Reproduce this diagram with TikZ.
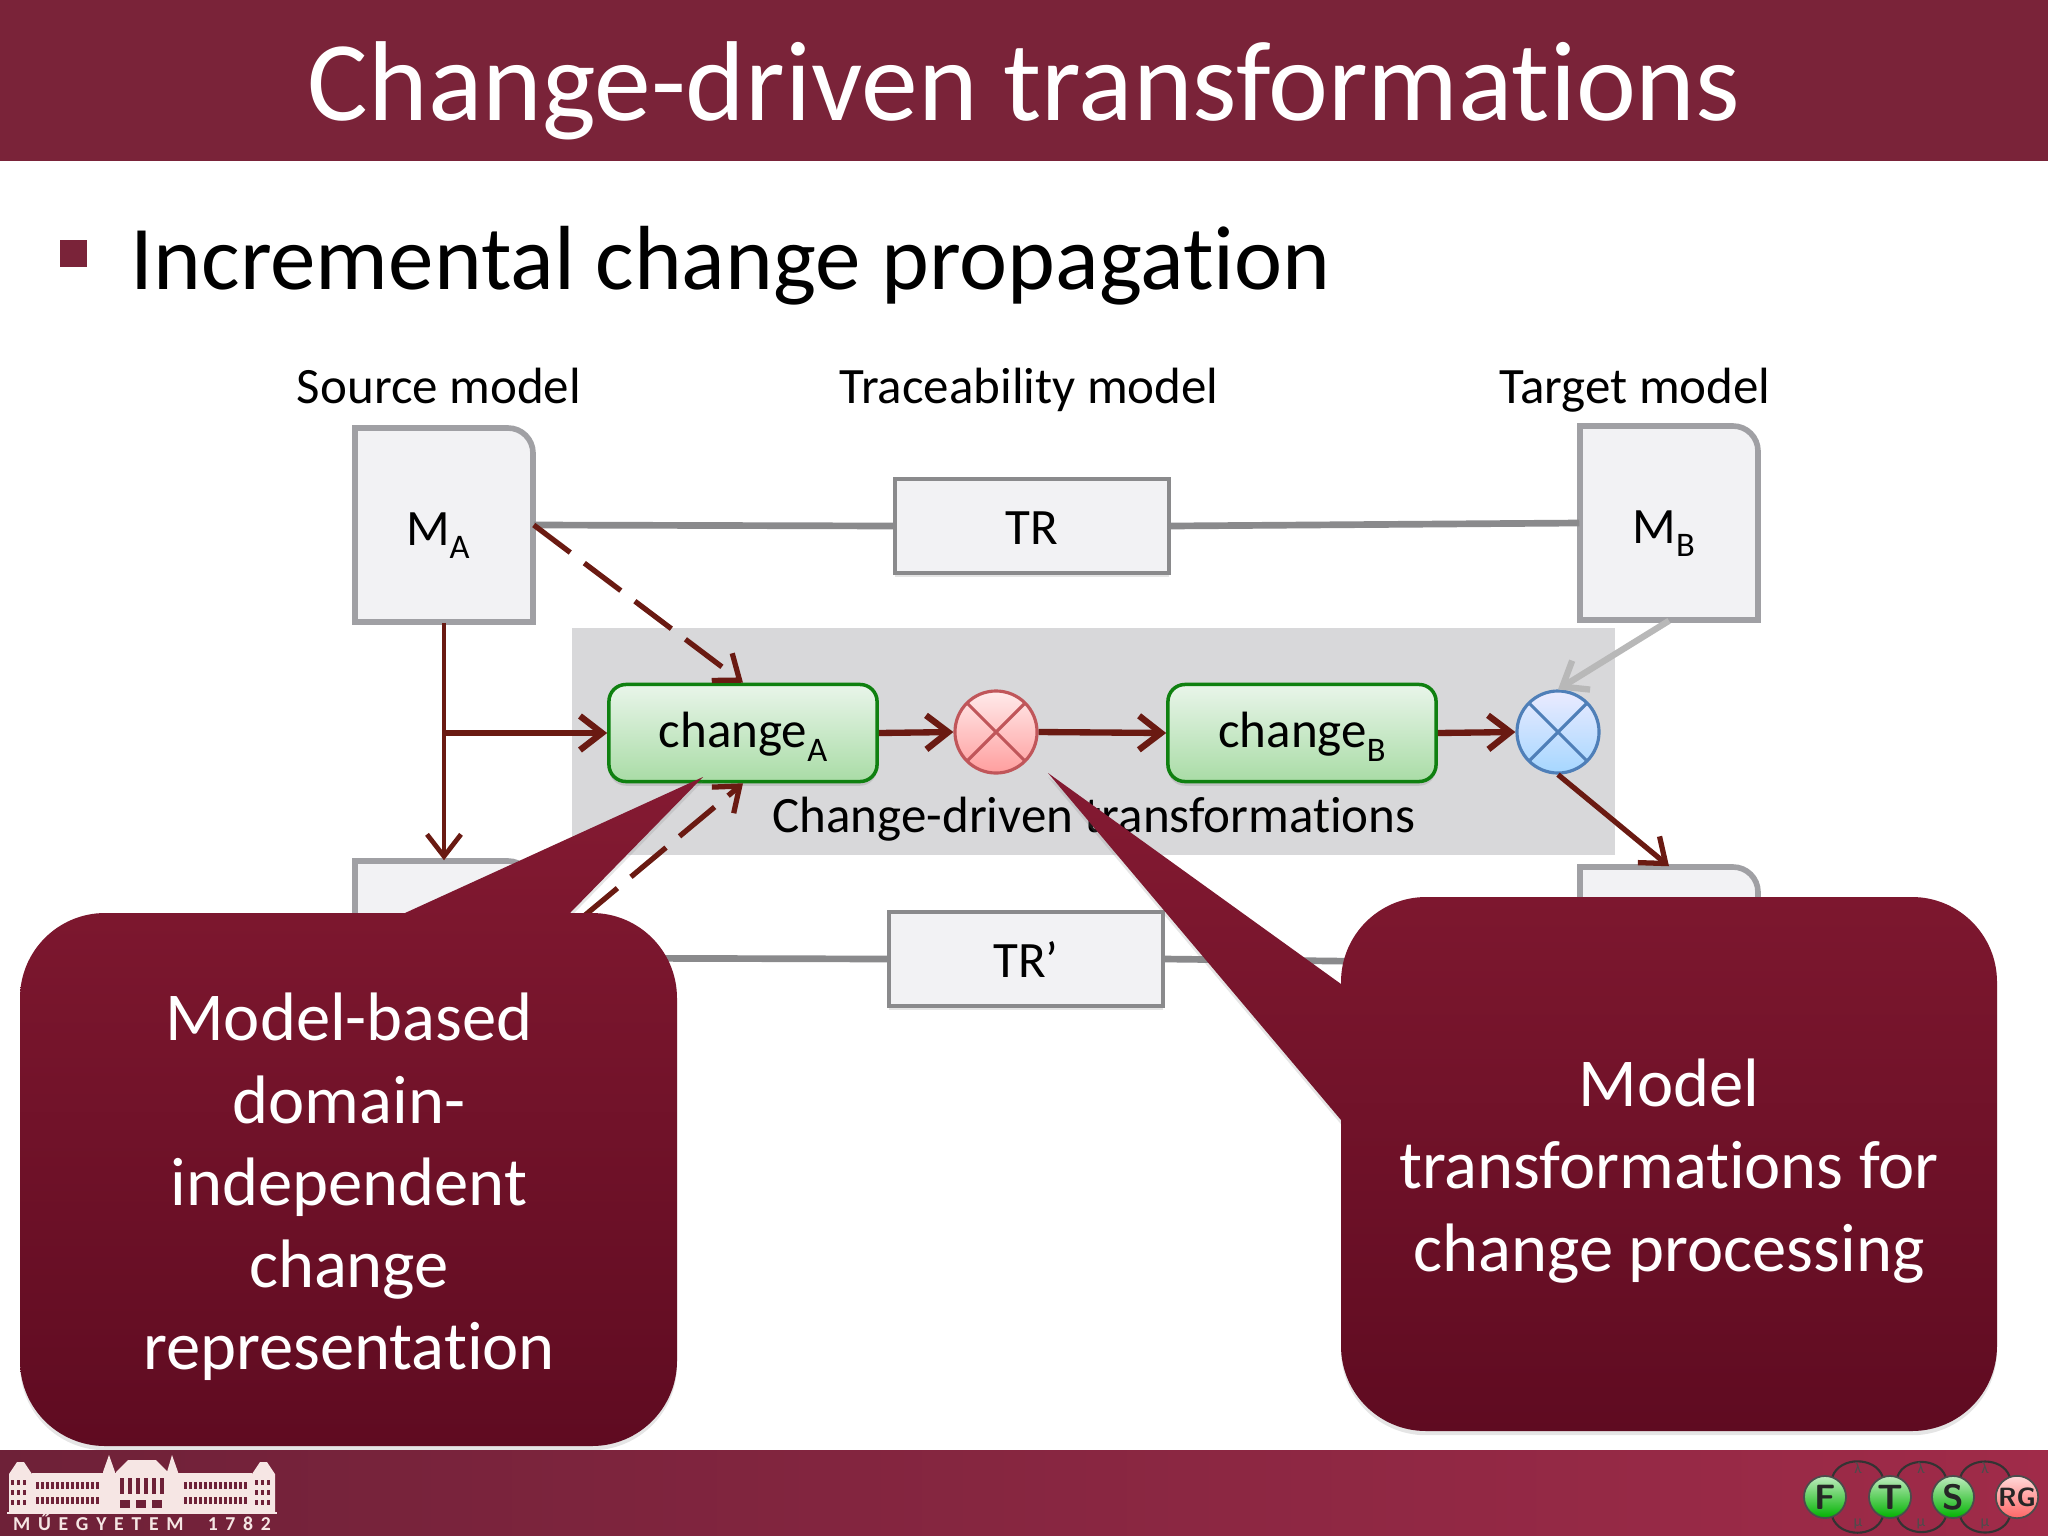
\documentclass[tikz,border=0pt]{standalone}
\usepackage{fontspec}
\setmainfont[Ligatures=NoCommon]{Carlito}
\usepackage{xcolor}
\usetikzlibrary{arrows.meta,calc,shadows}
\definecolor{slideWine}{HTML}{7A2339}
\definecolor{footLeft}{HTML}{6E2138}
\definecolor{footRight}{HTML}{A02B49}
\definecolor{calloutTop}{HTML}{841A32}
\definecolor{calloutBottom}{HTML}{5F0B21}
\definecolor{arrowBrown}{HTML}{6A1A12}
\definecolor{boxFill}{HTML}{F2F2F4}
\definecolor{boxLine}{HTML}{A0A0A4}
\definecolor{traceLine}{HTML}{8A8A8C}
\definecolor{panelGray}{HTML}{D8D8DA}
\definecolor{greenLine}{HTML}{0F8010}
\definecolor{greenTop}{HTML}{E9F5EA}
\definecolor{greenBottom}{HTML}{A9DCA6}
\definecolor{redLine}{HTML}{C0565A}
\definecolor{blueLine}{HTML}{4F7FB8}
\definecolor{logoPale}{HTML}{F6E6E4}
\tikzset{
  x=0.01cm, y=-0.01cm,
  flow/.style={-{Straight Barb[length=2.2mm,width=3.4mm]}, line width=1.35pt, draw=arrowBrown},
  thick flow/.style={flow, line width=1.8pt},
  dashflow/.style={flow, line width=1.5pt, dash pattern=on 13pt off 5pt},
  trace link/.style={line width=1.9pt, draw=traceLine},
  model outline/.style={draw=boxLine, fill=boxFill, line width=1.6pt,
    drop shadow={shadow xshift=0pt, shadow yshift=-.6pt, opacity=.2}},
  model label/.style={minimum width=1.78cm, minimum height=1.94cm, inner sep=0pt,
    text height=11.4pt, text depth=0pt, font=\fontsize{14.5}{16}\selectfont},
  trace box/.style={draw=traceLine, fill=boxFill, line width=1pt, minimum width=2.74cm,
    minimum height=.94cm, inner sep=0pt, text height=10.7pt, text depth=0pt,
    font=\fontsize{14.5}{16}\selectfont,
    drop shadow={shadow xshift=0pt, shadow yshift=-1.2pt, opacity=.2}},
  change box/.style={draw=greenLine, top color=greenTop, bottom color=greenBottom, line width=1pt,
    rounded corners=.17cm, minimum width=2.68cm, minimum height=.97cm, inner sep=0pt,
    text height=11pt, text depth=2.5pt, font=\fontsize{14.5}{16}\selectfont,
    drop shadow={shadow xshift=0pt, shadow yshift=-1.2pt, opacity=.25}},
  circle cross/.style={circle, minimum size=.82cm, inner sep=0pt, line width=.9pt, draw=#1,
    path picture={\draw[draw=#1, line width=.9pt]
      (path picture bounding box.north west) -- (path picture bounding box.south east)
      (path picture bounding box.north east) -- (path picture bounding box.south west);}},
  top label/.style={anchor=base, font=\fontsize{14.5}{16}\selectfont},
  callout/.style={top color=calloutTop, bottom color=calloutBottom,
    drop shadow={shadow xshift=0pt, shadow yshift=-1.2pt, opacity=.2}},
  callout text/.style={text=white, align=center, font=\fontsize{19.5}{23.4}\selectfont},
  ftsrg ball/.style={circle, minimum size=.42cm, inner sep=0pt, draw=black!70, line width=.5pt,
    top color=#1!25, bottom color=#1, text=black!85, font=\sffamily\bfseries\fontsize{10}{10}\selectfont},
  ftsrg arc/.style={draw=black!80, line width=.6pt},
  ftsrg tag/.style={inner sep=0pt, text=black!70, font=\fontsize{4.5}{5}\selectfont},
  logo part/.style={fill=logoPale, draw=none}
}
\newcommand{\lowsub}[1]{\raisebox{-.55ex}{\fontsize{9.8}{10}\selectfont #1}}
\newcommand{\modelbox}[4]{%
  \draw[model outline] (#2-89,#3+97) -- (#2-89,#3-97)
    [rounded corners=.25cm] -- (#2+89,#3-97) [sharp corners] -- (#2+89,#3+97) -- cycle;
  \node[model label] (#1) at (#2,#3) {#4};
}
\begin{document}
\begin{tikzpicture}
  \useasboundingbox (0,0) rectangle (2048,1536);
  \fill[white] (0,0) rectangle (2048,1536);
  % header
  \node[fill=slideWine, minimum width=20.48cm, minimum height=1.61cm, inner sep=0pt] (header) at (1024,80.5) {};
  \node[anchor=base, text=white, font=\fontsize{32.3}{36}\selectfont] (title) at (1024,120) {Change-driven transformations};
  \node[fill=slideWine, minimum size=.27cm, inner sep=0pt] (bullet) at (73.5,253.5) {};
  \node[anchor=base west, inner sep=0pt, font=\fontsize{25.9}{30}\selectfont] (head) at (130,289) {Incremental change propagation};
  \node[top label] (lsource) at (439,403) {Source model};
  \node[top label] (ltrace) at (1029,403) {Traceability model};
  \node[top label] (ltarget) at (1635,403) {Target model};

  \node[fill=panelGray, minimum width=10.43cm, minimum height=2.27cm, inner sep=0pt] (panel) at (1093.5,741.5) {};
  \node[anchor=base, font=\fontsize{14.5}{16}\selectfont] (lpanel) at (1094,832) {Change-driven transformations};

  \modelbox{ma}{444}{525}{M\lowsub{A}\kern3.5pt}
  \modelbox{mb}{1669}{523}{M\lowsub{B}\kern3pt}
  \modelbox{man}{444}{958}{}
  \modelbox{mbn}{1669}{964}{}
  \node[trace box] (tr) at (1032,526) {TR};
  \node[trace box] (trn) at (1026,959) {TR’};
  \node[change box] (cha) at (743,733) {change\lowsub{A}};
  \node[change box] (chb) at (1302,733) {change\lowsub{B}};
  \node[circle cross=redLine, top color=red!8, bottom color=red!38] (opa) at (996,732) {};
  \node[circle cross=blueLine, top color=blue!8!white, bottom color=blue!45!cyan!35] (opb) at (1558,732) {};

  \draw[trace link] (ma.east) -- (tr.west);
  \draw[trace link] (tr.east) -- (mb.west);
  \draw[trace link] (man.east) -- (trn.west);
  \draw[trace link] (trn.east) -- (mbn.west);
  \coordinate (branch) at (ma.south |- cha.west);
  \draw[flow] (ma.south) -- (man.north);
  \draw[thick flow] (branch) -- (cha.west);
  \draw[thick flow] (cha.east) -- (opa.west);
  \draw[thick flow] (opa.east) -- (chb.west);
  \draw[thick flow] (chb.east) -- (opb.west);
  \draw[flow, line width=1.5pt] (opb.south) -- (mbn.north);
  \draw[thick flow, draw=black!28] (mb.south) -- (opb.north);
  \draw[dashflow] (ma.east) -- (cha.north);
  \draw[dashflow] (man.east) -- (cha.south);

  % callouts
  \shade[callout] (405,913) [sharp corners] -- (703,777) -- (570,913) [rounded corners=.85cm]
    -- (677,913) -- (677,1446) -- (20,1446) -- (20,913) [sharp corners] -- cycle;
  \node[callout text] (ltext) at (349,1187) {Model-based\\domain-\\independent\\change\\representation};
  \shade[callout] (1341,984) [sharp corners] -- (1048,773) -- (1341,1120) [rounded corners=.85cm]
    -- (1341,1431) -- (1997,1431) -- (1997,897) -- (1341,897) [sharp corners] -- cycle;
  \node[callout text] (rtext) at (1669,1171) {Model\\transformations for\\change processing};

  % footer
  \shade[left color=footLeft, right color=footRight] (0,1450) rectangle (2048,1536);
  \fill[logo part] (7,1512) rectangle (277,1514);
  \fill[logo part] (9,1474) -- (17,1462) -- (24,1462) -- (32,1474) -- (32,1512) -- (9,1512) -- cycle;
  \fill[logo part] (252,1474) -- (260,1462) -- (267,1462) -- (275,1474) -- (275,1512) -- (252,1512) -- cycle;
  \fill[logo part] (32,1473) rectangle (252,1512);
  \fill[logo part] (116,1472) -- (128,1460) -- (156,1460) -- (168,1472) -- (168,1512) -- (116,1512) -- cycle;
  \fill[logo part] (103,1472) -- (109,1455) -- (115,1472) -- (115,1512) -- (103,1512) -- cycle;
  \fill[logo part] (167,1472) -- (172,1455) -- (178,1472) -- (178,1512) -- (167,1512) -- cycle;
  \foreach \wx in {36,41,...,96,184,189,...,246} {
    \fill[footLeft] (\wx,1482) rectangle +(3,7);
    \fill[footLeft] (\wx,1497) rectangle +(3,7);
  }
  \foreach \wx in {11,17,23,255,261,267} {
    \fill[footLeft] (\wx,1480) rectangle +(3,5);
    \fill[footLeft] (\wx,1490) rectangle +(3,5);
    \fill[footLeft] (\wx,1500) rectangle +(3,5);
  }
  \foreach \wx in {120,128,...,160} \fill[footLeft] (\wx,1478) rectangle +(4,16);
  \foreach \wx in {120,136,152} \fill[footLeft] (\wx,1500) rectangle +(10,8);
  \node[text=logoPale, inner sep=0pt, font=\bfseries\fontsize{5.6}{6}\selectfont] (logotext) at (142,1522)
    {M\ \,Ű\ \,E\ \,G\ \,Y\ \,E\ \,T\ \,E\ \,M\quad\ 1\ \,7\ \,8\ \,2};

  \node[ftsrg ball=green!70!black] (ff) at (1825,1497) {F};
  \node[ftsrg ball=green!70!black] (ft) at (1890,1497) {T};
  \node[ftsrg ball=green!70!black] (fs) at (1953,1497) {S};
  \node[ftsrg ball=red!60!white, font=\sffamily\bfseries\fontsize{7.5}{8}\selectfont] (frg) at (2017,1497) {RG};
  \draw[ftsrg arc] (ff.70) to[out=70, in=110, looseness=1.1] (ft.110);
  \draw[ftsrg arc] (ft.70) to[out=70, in=110, looseness=1.1] (fs.110);
  \draw[ftsrg arc] (fs.70) to[out=70, in=110, looseness=1.1] (frg.110);
  \draw[ftsrg arc] (ff.-70) to[out=-70, in=-110, looseness=1.1] (ft.-110);
  \draw[ftsrg arc] (ft.-70) to[out=-70, in=-110, looseness=1.1] (fs.-110);
  \draw[ftsrg arc] (fs.-70) to[out=-70, in=-110, looseness=1.1] (frg.-110);
  \node[ftsrg tag] (la) at (1858,1468) {λ};
  \node[ftsrg tag] (lb) at (1921,1468) {λ};
  \node[ftsrg tag] (lc) at (1985,1468) {λ};
  \node[ftsrg tag] (ma2) at (1858,1524) {μ};
  \node[ftsrg tag] (mb2) at (1921,1524) {μ};
  \node[ftsrg tag] (mc2) at (1985,1524) {μ};
\end{tikzpicture}
\end{document}
